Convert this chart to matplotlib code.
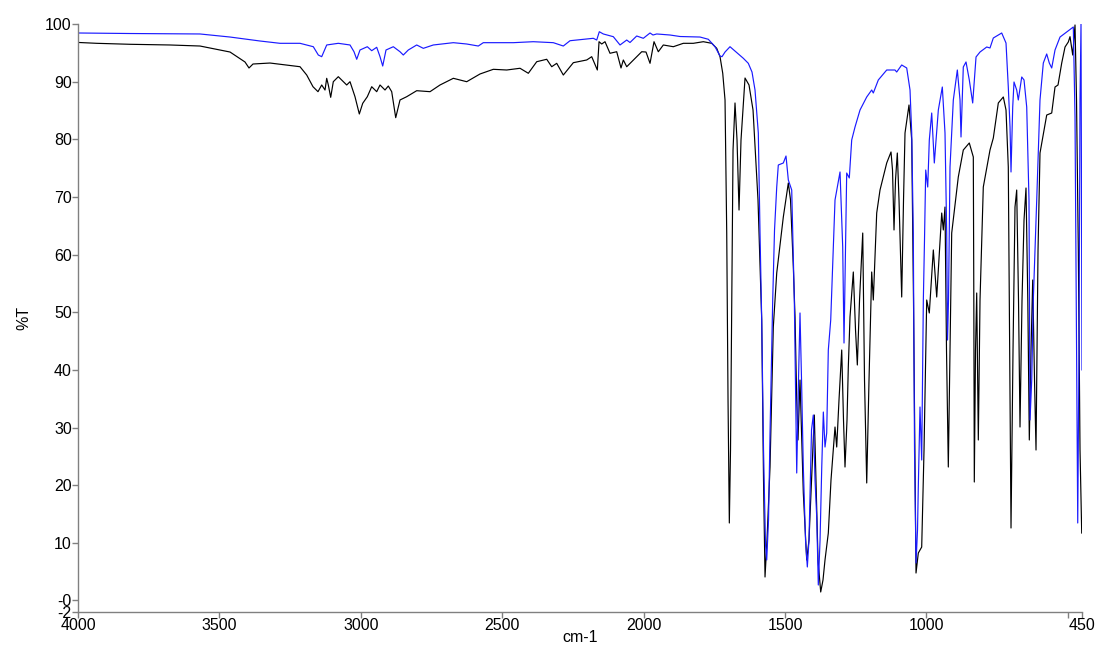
import matplotlib
matplotlib.use("Agg")
import matplotlib.pyplot as plt

plt.rcParams['font.family'] = ['Liberation Sans', 'DejaVu Sans']

# Sample spectrum (black): wavenumber (cm-1) and %T
black_wn = [4000, 3933.9, 3816.1, 3674.7, 3568.6, 3462.5, 3409.5, 3395.4, 3381.2, 3321.1,
            3285.7, 3215.0, 3191.3, 3169.1, 3151.4, 3138.3, 3126.6, 3120.6, 3114.9, 3106.5,
            3097.3, 3079.6, 3061.9, 3049.9, 3038.2, 3020.6, 3005.3, 2993.3, 2977.0, 2961.5,
            2943.8, 2932.1, 2914.5, 2902.8, 2890.8, 2876.6, 2861.4, 2837.7, 2802.4, 2755.3,
            2720.0, 2672.9, 2625.6, 2578.5, 2531.5, 2484.1, 2437.1, 2407.7, 2378.0, 2342.7,
            2325.0, 2307.3, 2284.0, 2248.6, 2201.2, 2183.6, 2163.7, 2157.7, 2148.2, 2136.6,
            2118.9, 2095.2, 2080.0, 2071.8, 2059.8, 2042.1, 2030.4, 2006.8, 1991.6, 1977.4,
            1963.3, 1948.1, 1930.4, 1895.0, 1859.7, 1824.3, 1788.9, 1759.2, 1741.6, 1729.9,
            1720.3, 1712.2, 1706.2, 1701.6, 1697.0, 1692.8, 1688.5, 1683.9, 1676.9, 1669.8,
            1662.7, 1655.7, 1641.5, 1627.4, 1613.2, 1595.6, 1582.5, 1576.1, 1570.8, 1563.8,
            1553.1, 1541.5, 1529.4, 1506.1, 1488.4, 1480.6, 1470.7, 1464.7, 1458.7, 1454.2,
            1447.1, 1435.4, 1423.4, 1415.3, 1406.4, 1400.1, 1396.5, 1390.5, 1383.4, 1373.9,
            1365.8, 1358.7, 1347.0, 1337.5, 1323.3, 1317.3, 1309.2, 1299.6, 1293.3, 1288.0,
            1280.9, 1276.3, 1270.3, 1258.6, 1250.8, 1244.4, 1236.6, 1225.3, 1219.0, 1211.2,
            1203.1, 1193.6, 1187.9, 1175.9, 1164.2, 1140.5, 1125.3, 1120.0, 1114.7, 1109.4,
            1103.0, 1097.0, 1087.5, 1081.1, 1075.8, 1061.7, 1052.1, 1045.8, 1036.9, 1028.8,
            1016.8, 1008.6, 999.1, 989.9, 975.7, 963.7, 946.0, 940.4, 934.4, 929.1,
            922.7, 916.7, 910.7, 887.4, 869.7, 848.5, 834.3, 832.5, 830.8, 826.5,
            822.3, 816.6, 810.6, 799.0, 775.3, 763.6, 745.9, 728.2, 718.7, 710.6,
            705.6, 701.0, 693.9, 686.9, 680.9, 674.5, 669.2, 662.1, 655.0, 648.0,
            641.6, 636.3, 630.3, 624.3, 617.9, 612.6, 605.5, 598.5, 574.8, 557.1,
            545.4, 534.8, 521.7, 510.0, 498.4, 492.4, 482.8, 474.7, 469.4, 463.0,
            457.0, 451.0]
black_t = [96.8, 96.65, 96.48, 96.36, 96.18, 95.14, 93.41, 92.37, 93.06, 93.23,
           93.01, 92.59, 91.15, 89.12, 88.26, 89.42, 88.55, 90.58, 89.42, 87.28,
           89.99, 90.86, 89.99, 89.42, 89.99, 87.39, 84.39, 86.24, 87.39, 89.12,
           88.26, 89.42, 88.55, 89.24, 88.26, 83.75, 86.82, 87.39, 88.43, 88.26,
           89.42, 90.58, 89.99, 91.33, 92.14, 92.02, 92.32, 91.45, 93.46, 93.88,
           92.59, 93.18, 91.15, 93.29, 93.76, 94.33, 92.02, 96.93, 96.53, 96.93,
           94.92, 95.19, 92.37, 93.76, 92.59, 93.46, 94.05, 95.19, 95.14, 93.18,
           96.93, 95.19, 96.36, 96.06, 96.65, 96.65, 96.93, 96.65, 95.78, 94.33,
           91.45, 86.82, 63.74, 34.78, 13.44, 26.10, 52.12, 78.14, 86.30, 79.88,
           67.73, 79.88, 90.63, 89.42, 85.08, 69.47, 48.65, 20.90, 4.07, 10.49,
           23.15, 47.44, 56.81, 66.52, 72.42, 69.47, 57.85, 49.17, 34.78, 27.84,
           38.24, 18.64, 7.02, 10.49, 20.90, 27.84, 32.17, 20.90, 7.02, 1.47,
           3.55, 7.02, 11.70, 20.90, 30.09, 26.62, 34.78, 43.45, 31.30, 23.15,
           31.30, 40.50, 49.17, 56.98, 46.92, 40.85, 52.12, 63.74, 38.24, 20.38,
           38.24, 56.98, 52.12, 67.21, 71.20, 75.89, 77.80, 74.67, 64.27, 72.94,
           77.62, 69.47, 52.64, 69.47, 81.09, 85.95, 79.88, 52.12, 4.76, 8.23,
           9.27, 26.10, 52.12, 49.87, 60.80, 52.64, 67.21, 64.27, 68.25, 43.45,
           23.15, 43.45, 63.74, 73.46, 78.14, 79.36, 76.93, 52.12, 20.55, 43.45,
           53.34, 27.84, 52.12, 71.72, 78.14, 80.22, 86.30, 87.34, 85.08, 75.19,
           43.45, 12.57, 43.45, 68.25, 71.20, 52.12, 30.09, 52.12, 66.00, 71.55,
           52.12, 27.84, 43.45, 55.59, 38.24, 26.10, 60.80, 77.62, 84.21, 84.56,
           89.07, 89.42, 93.23, 96.01, 96.88, 97.80, 94.62, 99.83, 86.82, 60.80,
           26.10, 11.70]

# Reference spectrum (blue): wavenumber (cm-1) and %T
blue_wn = [4000, 3816.1, 3568.6, 3462.5, 3356.5, 3285.7, 3215.0, 3168.0, 3150.3, 3138.3,
           3120.6, 3079.6, 3038.2, 3024.1, 3014.5, 3002.9, 2977.0, 2961.5, 2943.8, 2932.1,
           2922.6, 2910.9, 2885.1, 2861.4, 2849.8, 2832.1, 2802.4, 2779.0, 2743.7, 2672.9,
           2625.6, 2584.6, 2566.9, 2460.8, 2390.1, 2319.4, 2284.0, 2260.3, 2177.9, 2165.9,
           2156.7, 2142.6, 2107.2, 2083.5, 2059.8, 2048.2, 2024.5, 2001.1, 1977.4, 1966.9,
           1953.8, 1906.7, 1871.4, 1800.7, 1771.3, 1747.6, 1729.9, 1722.9, 1712.2, 1694.6,
           1647.5, 1629.9, 1616.8, 1606.2, 1594.5, 1588.5, 1582.5, 1576.1, 1569.0, 1564.8,
           1558.4, 1553.1, 1543.6, 1537.2, 1529.4, 1523.8, 1506.1, 1496.6, 1488.4, 1476.4,
           1467.2, 1458.7, 1452.4, 1447.1, 1441.7, 1435.4, 1427.6, 1421.2, 1415.3, 1406.4,
           1400.1, 1394.0, 1388.0, 1382.4, 1376.2, 1370.2, 1364.6, 1358.7, 1352.7, 1347.0,
           1338.5, 1323.3, 1305.6, 1296.1, 1291.5, 1286.2, 1282.0, 1272.8, 1264.3, 1252.6,
           1234.9, 1211.2, 1193.6, 1187.9, 1170.2, 1140.5, 1111.2, 1105.2, 1087.5, 1069.8,
           1058.1, 1052.1, 1046.5, 1042.2, 1036.9, 1031.6, 1028.8, 1022.8, 1016.8, 1011.0,
           1006.9, 1002.6, 995.5, 989.9, 981.4, 972.2, 958.0, 943.9, 934.4, 928.4,
           925.5, 922.0, 916.7, 905.0, 890.8, 881.3, 877.8, 869.7, 860.1, 848.5,
           836.5, 824.7, 810.6, 786.9, 775.3, 763.6, 733.9, 718.7, 710.6, 704.5,
           701.0, 695.0, 690.4, 680.9, 675.2, 663.1, 655.0, 645.5, 637.4, 633.8,
           627.8, 622.2, 610.1, 598.5, 586.8, 574.8, 565.6, 557.1, 545.4, 527.7,
           504.0, 480.7, 474.7, 469.4, 465.1, 460.6, 457.0, 453.5, 450.0]
blue_t = [98.44, 98.35, 98.27, 97.74, 97.05, 96.65, 96.65, 96.06, 94.62, 94.33,
          96.36, 96.65, 96.36, 95.19, 93.88, 95.49, 96.06, 95.37, 95.96, 94.33,
          92.71, 95.49, 96.06, 95.19, 94.62, 95.49, 96.36, 95.78, 96.36, 96.76,
          96.53, 96.18, 96.76, 96.76, 96.93, 96.76, 96.18, 97.10, 97.52, 97.22,
          98.66, 98.27, 97.80, 96.36, 97.22, 96.79, 97.92, 97.52, 98.44, 98.09,
          98.27, 98.09, 97.83, 97.74, 97.35, 96.06, 94.45, 94.33, 95.14, 96.06,
          94.05, 93.18, 91.67, 88.55, 81.09, 63.74, 48.65, 26.10, 9.62, 7.02,
          13.96, 29.05, 52.12, 64.27, 71.72, 75.54, 75.89, 77.10, 72.94, 71.20,
          52.12, 22.11, 38.24, 49.87, 38.24, 23.15, 10.49, 5.81, 10.49, 29.57,
          32.17, 20.90, 14.48, 2.68, 10.49, 23.15, 32.69, 26.62, 29.05, 43.45,
          48.65, 69.47, 74.33, 61.32, 44.66, 60.80, 74.15, 73.29, 79.88, 82.13,
          85.08, 87.34, 88.55, 88.03, 90.29, 92.02, 92.02, 91.67, 92.89, 92.37,
          88.55, 81.09, 63.74, 26.10, 6.50, 12.22, 19.68, 33.56, 24.37, 52.12,
          62.53, 74.67, 71.72, 79.88, 84.56, 75.89, 85.08, 89.07, 81.09, 63.74,
          45.18, 52.12, 75.19, 86.82, 92.02, 86.82, 80.40, 92.54, 93.41, 90.29,
          86.30, 94.28, 95.14, 96.01, 95.84, 97.57, 98.44, 96.70, 89.07, 82.13,
          74.33, 85.60, 89.94, 88.55, 86.82, 90.81, 90.29, 85.60, 69.47, 31.31,
          38.24, 52.12, 69.47, 86.82, 93.23, 94.80, 93.23, 92.37, 95.49, 97.74,
          98.61, 99.48, 83.87, 43.45, 13.44, 43.45, 86.82, 100.0, 40.0]

x_ticks = [4000, 3500, 3000, 2500, 2000, 1500, 1000, 500, 450]
x_tick_labels = ['4000', '3500', '3000', '2500', '2000', '1500', '1000', '', '450']
y_ticks = [100, 90, 80, 70, 60, 50, 40, 30, 20, 10, 0, -2]
y_tick_labels = ['100', '90', '80', '70', '60', '50', '40', '30', '20', '10', '-0', '-2']

fig = plt.figure(figsize=(10.99, 6.49), dpi=100)
ax = fig.add_axes([78 / 1099, 37 / 649, 1004 / 1099, 588 / 649])

ax.plot(black_wn, black_t, color='black', linewidth=0.85)
ax.plot(blue_wn, blue_t, color='#1a1aff', linewidth=0.85)

ax.set_xlim(4000, 450)
ax.set_ylim(-2, 100)
ax.set_xticks(x_ticks)
ax.set_xticklabels(x_tick_labels)
ax.set_yticks(y_ticks)
ax.set_yticklabels(y_tick_labels)

for s in ['top', 'right']:
    ax.spines[s].set_visible(False)
for s in ['left', 'bottom']:
    ax.spines[s].set_color('#808080')
    ax.spines[s].set_linewidth(1.0)
ax.tick_params(axis='both', colors='#808080', labelcolor='black', labelsize=11.5,
               length=4, width=1, direction='out', pad=0.5)

ax.set_xlabel('cm-1', fontsize=11.5, labelpad=-2)
ax.set_ylabel('%T', fontsize=11.5, labelpad=10)

fig.savefig('out.png', dpi=100)
